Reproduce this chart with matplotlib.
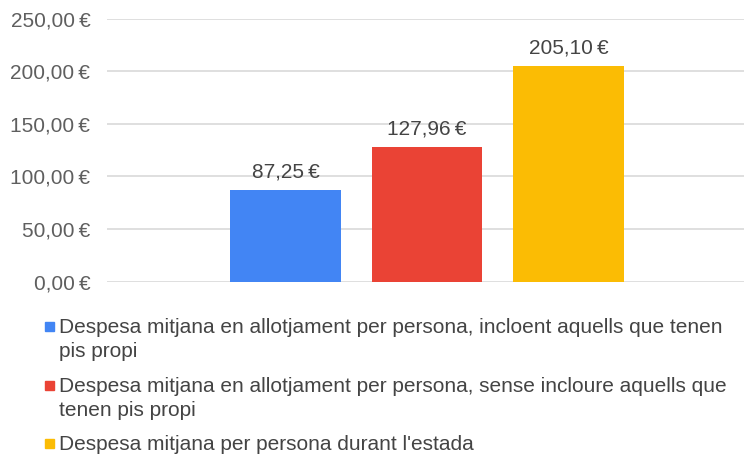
import matplotlib.pyplot as plt
from matplotlib.patches import Rectangle

plt.rcParams['font.family'] = ['Liberation Sans', 'DejaVu Sans']

series = [
    "Despesa mitjana en allotjament per persona, incloent aquells que tenen\npis propi",
    "Despesa mitjana en allotjament per persona, sense incloure aquells que\ntenen pis propi",
    "Despesa mitjana per persona durant l'estada",
]
values = [87.25, 127.96, 205.10]
colors = ["#4285F4", "#EA4335", "#FBBC04"]
yticks = [0, 50, 100, 150, 200, 250]


def euro(v):
    return f"{v:.2f}".replace(".", ",") + "\u2009€"


W, H = 744, 461
fig = plt.figure(figsize=(W / 100, H / 100), dpi=100)
ax = fig.add_axes([107 / W, 1 - 281.5 / H, 637 / W, 263 / H])

x = list(range(len(values)))
bars = ax.bar(x, values, width=0.784, color=colors, zorder=3)
ax.bar_label(bars, labels=[euro(v) for v in values], padding=6,
             fontsize=15, color="#444444")

ax.set_xlim(-1.2615, 3.24)
ax.set_ylim(0, 250)
ax.set_yticks(yticks)
ax.set_yticklabels([euro(v) for v in yticks], fontsize=15, color="#5f5f5f")
ax.set_xticks([])
ax.tick_params(axis="y", length=0, pad=12)
ax.grid(axis="y", color="#d9d9d9", linewidth=1.2, zorder=0)
for s in ax.spines.values():
    s.set_visible(False)

# legend drawn by hand so the swatch sits on the first line
baselines = [333, 392, 450]
for lab, col, base in zip(series, colors, baselines):
    fig.patches.append(Rectangle((45 / W, 1 - (base - 2) / H), 9 / W, 9 / H,
                                 transform=fig.transFigure, color=col))
    for i, line in enumerate(lab.split("\n")):
        fig.text(59 / W, 1 - (base + 24 * i) / H, line, fontsize=15,
                 color="#444444", va="baseline", ha="left")

fig.savefig("out.png", dpi=100)
